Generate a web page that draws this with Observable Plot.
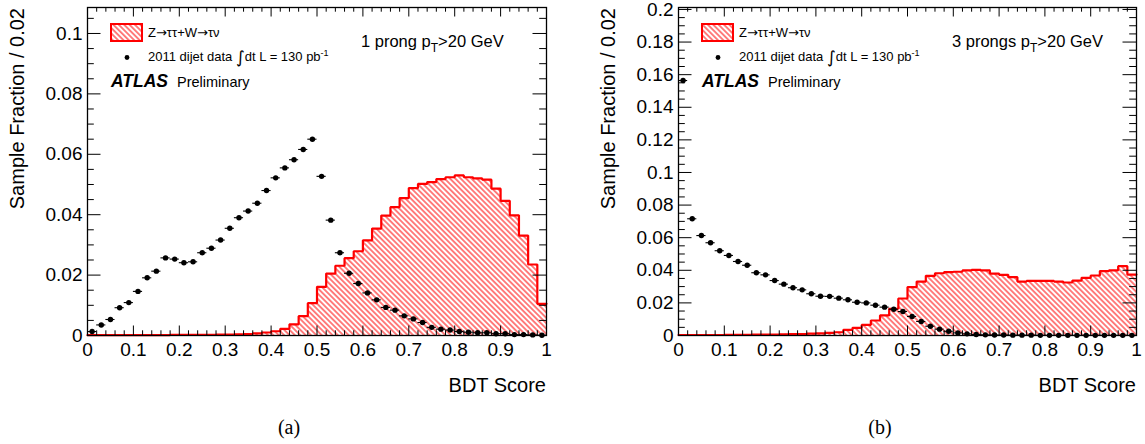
<!DOCTYPE html>
<html><head><meta charset="utf-8">
<script src="https://cdn.jsdelivr.net/npm/d3@7"></script>
<script src="https://cdn.jsdelivr.net/npm/@observablehq/plot@0.6"></script>
<style>
body{margin:0;background:#fff;}
#fig{position:relative;width:1145px;height:444px;overflow:hidden;background:#fff;}
#fig svg{position:absolute;top:0;}
</style></head><body><div id="fig"></div>
<script>
// ---------------- data ----------------
const binEdges = [0,0.02,0.04,0.06,0.08,0.1,0.12,0.14,0.16,0.18,0.2,0.22,0.24,0.26,0.28,0.3,0.32,0.34,0.36,0.38,0.4,0.42,0.44,0.46,0.48,0.5,0.52,0.54,0.56,0.58,0.6,0.62,0.64,0.66,0.68,0.7,0.72,0.74,0.76,0.78,0.8,0.82,0.84,0.86,0.88,0.9,0.92,0.94,0.96,0.98,1];

// 1 prong: Z->tautau + W->taunu (signal histogram)
const prong1Signal = [0.0001,0.0001,0.0001,0.0001,0.0001,0.0001,0.0001,0.0001,0.0001,0.0002,
  0.0002,0.0002,0.0002,0.0002,0.0003,0.0003,0.0004,0.0005,0.0007,0.0010,
  0.0014,0.0022,0.0037,0.0064,0.0107,0.0161,0.0205,0.0231,0.0256,0.0279,
  0.0315,0.0354,0.0397,0.0425,0.0455,0.0488,0.0502,0.0508,0.0518,0.0524,
  0.0530,0.0524,0.0520,0.0516,0.0486,0.0446,0.0398,0.0331,0.0235,0.0105];
// 1 prong: 2011 dijet data
const prong1Data = [0.0013,0.0035,0.0053,0.0092,0.0109,0.0146,0.0191,0.0213,0.0257,0.0253,
  0.0241,0.0244,0.0274,0.0289,0.0316,0.0355,0.0390,0.0412,0.0438,0.0480,
  0.0522,0.0555,0.0582,0.0616,0.0650,0.0527,0.0382,0.0274,0.0206,0.0172,
  0.0141,0.0118,0.0093,0.0084,0.0065,0.0055,0.0043,0.0027,0.0021,0.0018,
  0.0013,0.0011,0.0009,0.0009,0.0006,0.0006,0.0003,0.0003,0.0002,0.0001];

// 3 prongs: signal histogram
const prong3Signal = [0.0003,0.0003,0.0003,0.0003,0.0003,0.0004,0.0004,0.0004,0.0005,0.0005,
  0.0006,0.0007,0.0008,0.0009,0.0011,0.0013,0.0016,0.0020,0.0035,0.0047,
  0.0065,0.0092,0.0123,0.0164,0.0227,0.0297,0.0331,0.0366,0.0382,0.0389,
  0.0391,0.0399,0.0403,0.0399,0.0380,0.0372,0.0358,0.0331,0.0335,0.0335,
  0.0335,0.0331,0.0325,0.0337,0.0354,0.0368,0.0395,0.0400,0.0425,0.0374];
// 3 prongs: 2011 dijet data
const prong3Data = [0.1564,0.0716,0.0613,0.0569,0.0520,0.0491,0.0454,0.0431,0.0385,0.0372,
  0.0337,0.0315,0.0293,0.0280,0.0256,0.0241,0.0240,0.0229,0.0219,0.0204,
  0.0200,0.0186,0.0174,0.0161,0.0147,0.0117,0.0086,0.0057,0.0039,0.0026,
  0.0016,0.0010,0.0006,0.0004,0.0003,0.0003,0.0002,0.0002,0.0002,0.0001,
  0.0001,0.0001,0.0001,0.0001,0.0001,0.0001,0.0001,0.0001,0.0001,0.0001];

const xTickValues = [0,0.1,0.2,0.3,0.4,0.5,0.6,0.7,0.8,0.9,1];
const yTicks1 = [0,0.02,0.04,0.06,0.08,0.1];
const yTicks3 = [0,0.02,0.04,0.06,0.08,0.1,0.12,0.14,0.16,0.18,0.2];

const legendSignal = ["Z", "\u2192", "\u03c4\u03c4+W", "\u2192", "\u03c4\u03bd"];
const legendData = "2011 dijet data ";
const lumiText = "dt L = 130 pb";
const yTitle = "Sample Fraction / 0.02";
const xTitle = "BDT Score";
const panels = [
  {id: "hatchA", signal: prong1Signal, data: prong1Data, yMax: 0.1086, yTicks: yTicks1,
   tag: "(a)", cat1: "1 prong p", left: 0, ml: 87, mr: 26},
  {id: "hatchB", signal: prong3Signal, data: prong3Data, yMax: 0.2012, yTicks: yTicks3,
   tag: "(b)", cat1: "3 prongs p", left: 573, ml: 105, mr: 9}
];

// ---------------- drawing ----------------
const W = 572, H = 444, MT = 7, MB = 109;
const innerH = H - MT - MB;
const fmt = d => d3.format("~g")(d);
const RED = "#ff0000";
const FONT = "'Liberation Sans', Arial, Helvetica, sans-serif";

function draw(p) {
  const innerW = W - p.ml - p.mr;
  const sigPts = p.signal.map((v, i) => ({x: binEdges[i], y: v}))
    .concat([{x: binEdges[binEdges.length - 1], y: p.signal[p.signal.length - 1]}]);
  const pts = p.data.map((v, i) => ({x1: binEdges[i], x2: binEdges[i + 1], y: v}));
  const isMult = (v, s) => Math.abs(v / s - Math.round(v / s)) < 1e-6;
  const xMinor = binEdges.filter(v => !isMult(v, 0.1));
  const yMinor = d3.range(0, p.yMax, 0.005).filter(v => !isMult(v, 0.02));

  const svg = Plot.plot({
    width: W, height: H,
    marginLeft: p.ml, marginRight: p.mr, marginTop: MT, marginBottom: MB,
    x: {domain: [0, 1]},
    y: {domain: [0, p.yMax]},
    style: {fontFamily: FONT, fontSize: "19px", background: "transparent", color: "black", overflow: "visible"},
    marks: [
      Plot.areaY(sigPts, {x: "x", y: "y", curve: "step-after", fill: `url(#${p.id})`}),
      Plot.lineY(sigPts, {x: "x", y: "y", curve: "step-after", stroke: RED, strokeWidth: 2.2, strokeLinejoin: "miter"}),
      Plot.ruleY(pts, {x1: "x1", x2: "x2", y: "y", stroke: "black", strokeWidth: 1.1}),
      Plot.dot(pts, {x: d => (d.x1 + d.x2) / 2, y: "y", r: 2.7, fill: "black", stroke: "none"}),
      // ROOT-style inward ticks on all four sides
      Plot.ruleX(xTickValues, {insetTop: innerH - 9.5, stroke: "black", strokeWidth: 1}),
      Plot.ruleX(xMinor, {insetTop: innerH - 4.7, stroke: "black", strokeWidth: 1}),
      Plot.ruleX(xTickValues, {insetBottom: innerH - 9.5, stroke: "black", strokeWidth: 1}),
      Plot.ruleX(xMinor, {insetBottom: innerH - 4.7, stroke: "black", strokeWidth: 1}),
      Plot.ruleY(p.yTicks, {insetRight: innerW - 13.5, stroke: "black", strokeWidth: 1}),
      Plot.ruleY(yMinor, {insetRight: innerW - 6.8, stroke: "black", strokeWidth: 1}),
      Plot.ruleY(p.yTicks, {insetLeft: innerW - 13.5, stroke: "black", strokeWidth: 1}),
      Plot.ruleY(yMinor, {insetLeft: innerW - 6.8, stroke: "black", strokeWidth: 1}),
      Plot.frame({stroke: "black", strokeWidth: 1.3}),
      Plot.axisX(xTickValues, {tickSize: 0, tickPadding: 7, tickFormat: fmt, label: null, fontSize: 19}),
      Plot.axisY(p.yTicks, {tickSize: 0, tickPadding: 5, tickFormat: fmt, label: null, fontSize: 19})
    ]
  });
  svg.style.left = p.left + "px";
  const s = d3.select(svg);
  s.insert("defs", ":first-child").html(
    `<pattern id="${p.id}" patternUnits="userSpaceOnUse" width="3.8" height="10" patternTransform="rotate(-45)">
       <line x1="1.9" y1="-1" x2="1.9" y2="11" stroke="${RED}" stroke-width="1"/>
     </pattern>`);
  const g = s.append("g").attr("font-family", FONT).attr("fill", "black").attr("text-anchor", "start");
  const fx = p.ml, fr = W - p.mr;
  // axis titles
  g.append("text").attr("transform", `translate(${fx - 63},8) rotate(-90)`)
    .attr("text-anchor", "end").attr("font-size", 20).text(yTitle);
  g.append("text").attr("x", fr).attr("y", 392).attr("text-anchor", "end")
    .attr("font-size", 20).text(xTitle);
  // caption
  g.append("text").attr("x", fx + 202).attr("y", 434).attr("text-anchor", "middle")
    .attr("font-family", "'Liberation Serif', 'DejaVu Serif', serif").attr("font-size", 20).text(p.tag);
  // legend
  g.append("rect").attr("x", fx + 24).attr("y", 24).attr("width", 31).attr("height", 17)
    .attr("fill", `url(#${p.id})`).attr("stroke", RED).attr("stroke-width", 2);
  const t1 = g.append("text").attr("x", fx + 61).attr("y", 37).attr("font-size", 13);
  legendSignal.forEach(part => {
    const ts = t1.append("tspan").text(part);
    if (part === "\u2192") ts.attr("font-family", "'DejaVu Sans', sans-serif").attr("font-size", 13);
  });
  g.append("circle").attr("cx", fx + 40).attr("cy", 57.5).attr("r", 2.4).attr("fill", "black");
  const t2 = g.append("text").attr("x", fx + 61).attr("y", 61).attr("font-size", 13);
  t2.append("tspan").text(legendData);
  t2.append("tspan").attr("font-family", "'DejaVu Sans', sans-serif").attr("font-size", 17).attr("dy", 2).text("\u222b");
  t2.append("tspan").attr("dy", -2).text(lumiText);
  t2.append("tspan").attr("dy", -5).attr("font-size", 9).text("-1");
  const t3 = g.append("text").attr("x", fx + 24).attr("y", 87);
  t3.append("tspan").attr("font-size", 17.5).attr("font-weight", "bold").attr("font-style", "italic").text("ATLAS");
  t3.append("tspan").attr("font-size", 14.5).attr("dx", 9).text("Preliminary");
  const t4 = g.append("text").attr("x", fx + 274).attr("y", 46.5).attr("font-size", 16.5);
  t4.append("tspan").text(p.cat1);
  t4.append("tspan").attr("dy", 5).attr("font-size", 12).text("T");
  t4.append("tspan").attr("dy", -5).text(">20 GeV");
  document.getElementById("fig").appendChild(svg);
}
panels.forEach(draw);
</script>
</body></html>
